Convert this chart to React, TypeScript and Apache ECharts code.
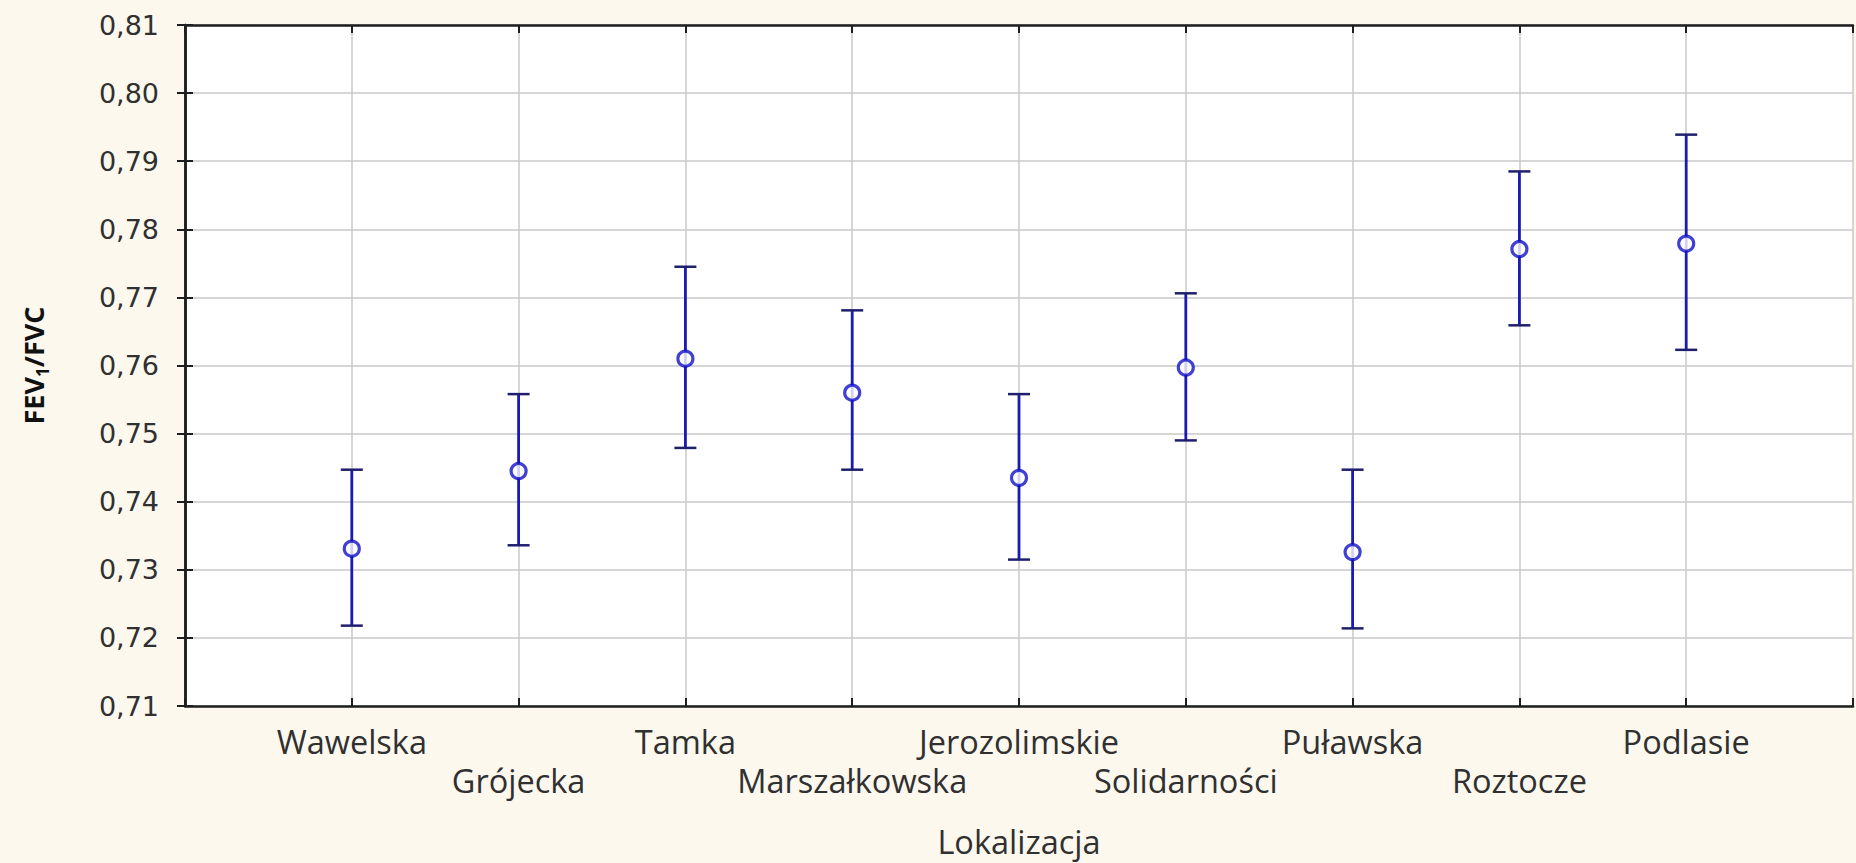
import React, { useEffect, useRef } from "react";
import * as echarts from "echarts";

const categories = [
  "Wawelska",
  "Grójecka",
  "Tamka",
  "Marszałkowska",
  "Jerozolimskie",
  "Solidarności",
  "Puławska",
  "Roztocze",
  "Podlasie",
];
const means = [0.7331, 0.7445, 0.761, 0.756, 0.7435, 0.7597, 0.7326, 0.7771, 0.7779];
const upper = [0.7447, 0.7558, 0.7745, 0.7681, 0.7558, 0.7706, 0.7447, 0.7885, 0.7939];
const lower = [0.7218, 0.7336, 0.7479, 0.7447, 0.7315, 0.749, 0.7214, 0.7659, 0.7623];
const yMin = 0.71;
const yMax = 0.81;
const yStep = 0.01;

const BG = "#fcf8ee";
const AXIS = "#1e1e1e";
const GRID = "#c8c8c8";
const BAR = "#1a1ab4";
const CAP = "#1f1f6e";
const MARK = "#1010c8";

export default function App() {
  const ref = useRef<HTMLDivElement>(null);

  useEffect(() => {
    document.body.style.margin = "0";
    if (!ref.current) return;
    const chart = echarts.init(ref.current, undefined, { renderer: "svg" });

    const catFormatter = (v: number) => {
      const idx = Math.round(v) - 1;
      if (Math.abs(v - Math.round(v)) > 1e-6 || idx < 0 || idx >= categories.length) return "";
      return idx % 2 === 0 ? categories[idx] : "\n" + categories[idx];
    };

    const tickStyle = { show: true, inside: true, length: 8, lineStyle: { color: AXIS, width: 2 } };
    const lineStyle = { show: true, lineStyle: { color: AXIS, width: 2.5 } };

    const option: any = {
      animation: false,
      backgroundColor: BG,
      grid: {
        left: 185,
        right: 2,
        top: 25,
        bottom: 156,
        show: true,
        backgroundColor: "#ffffff",
        borderWidth: 0,
      },
      xAxis: [
        {
          type: "value",
          position: "bottom",
          min: 0,
          max: 10,
          interval: 1,
          axisLine: lineStyle,
          axisTick: tickStyle,
          splitLine: { show: true, lineStyle: { color: GRID, width: 1.5 } },
          axisLabel: {
            formatter: catFormatter,
            fontFamily: "Open Sans",
            fontSize: 32.5,
            lineHeight: 39,
            color: "#303030",
            margin: 16,
          },
          name: "Lokalizacja",
          nameLocation: "middle",
          nameGap: 119,
          nameTextStyle: { fontFamily: "Open Sans", fontSize: 32.5, color: "#303030" },
        },
        {
          type: "value",
          position: "top",
          min: 0,
          max: 10,
          interval: 1,
          axisLine: lineStyle,
          axisTick: tickStyle,
          splitLine: { show: false },
          axisLabel: { show: false },
        },
      ],
      yAxis: [
        {
          type: "value",
          position: "left",
          min: yMin,
          max: yMax,
          interval: yStep,
          axisLine: lineStyle,
          axisTick: tickStyle,
          splitLine: { show: true, lineStyle: { color: GRID, width: 1.5 } },
          axisLabel: {
            formatter: (v: number) => v.toFixed(2).replace(".", ","),
            fontFamily: "DejaVu Sans",
            fontSize: 27,
            color: "#303030",
            margin: 26,
          },
          name: "{a|FEV}{s|1}{a|/FVC}",
          nameLocation: "middle",
          nameRotate: 90,
          nameGap: 134,
          nameTextStyle: {
            rich: {
              a: {
                fontFamily: "Open Sans",
                fontWeight: "bold",
                fontSize: 27,
                lineHeight: 36,
                color: "#111111",
              },
              s: {
                fontFamily: "Open Sans",
                fontWeight: "bold",
                fontSize: 17,
                lineHeight: 16,
                verticalAlign: "bottom",
                color: "#111111",
              },
            },
          },
        },
        {
          type: "value",
          position: "right",
          min: yMin,
          max: yMax,
          interval: yStep,
          axisLine: lineStyle,
          axisTick: tickStyle,
          splitLine: { show: false },
          axisLabel: { show: false },
        },
      ],
      series: [
        {
          type: "custom",
          xAxisIndex: 0,
          yAxisIndex: 0,
          encode: { x: 0, y: [1, 2] },
          data: categories.map((_, i) => [i + 1, lower[i], upper[i]]),
          z: 3,
          renderItem: (params: any, api: any) => {
            const x = api.value(0);
            const pLo = api.coord([x, api.value(1)]);
            const pHi = api.coord([x, api.value(2)]);
            const cap = 11;
            return {
              type: "group",
              children: [
                {
                  type: "line",
                  shape: { x1: pHi[0], y1: pHi[1], x2: pLo[0], y2: pLo[1] },
                  style: { stroke: BAR, lineWidth: 2.8 },
                },
                {
                  type: "line",
                  shape: { x1: pHi[0] - cap, y1: pHi[1], x2: pHi[0] + cap, y2: pHi[1] },
                  style: { stroke: CAP, lineWidth: 2.5 },
                },
                {
                  type: "line",
                  shape: { x1: pLo[0] - cap, y1: pLo[1], x2: pLo[0] + cap, y2: pLo[1] },
                  style: { stroke: CAP, lineWidth: 2.5 },
                },
              ],
            };
          },
        },
        {
          type: "scatter",
          xAxisIndex: 0,
          yAxisIndex: 0,
          data: means.map((m, i) => [i + 1, m]),
          symbol: "circle",
          symbolSize: 15,
          z: 4,
          itemStyle: { color: "#ffffff", borderColor: MARK, borderWidth: 3.2 },
        },
      ],
    };

    chart.setOption(option);
    return () => chart.dispose();
  }, []);

  return (
    <div
      ref={ref}
      style={{ position: "absolute", left: 0, top: 0, width: 1856, height: 863, background: BG }}
    />
  );
}
